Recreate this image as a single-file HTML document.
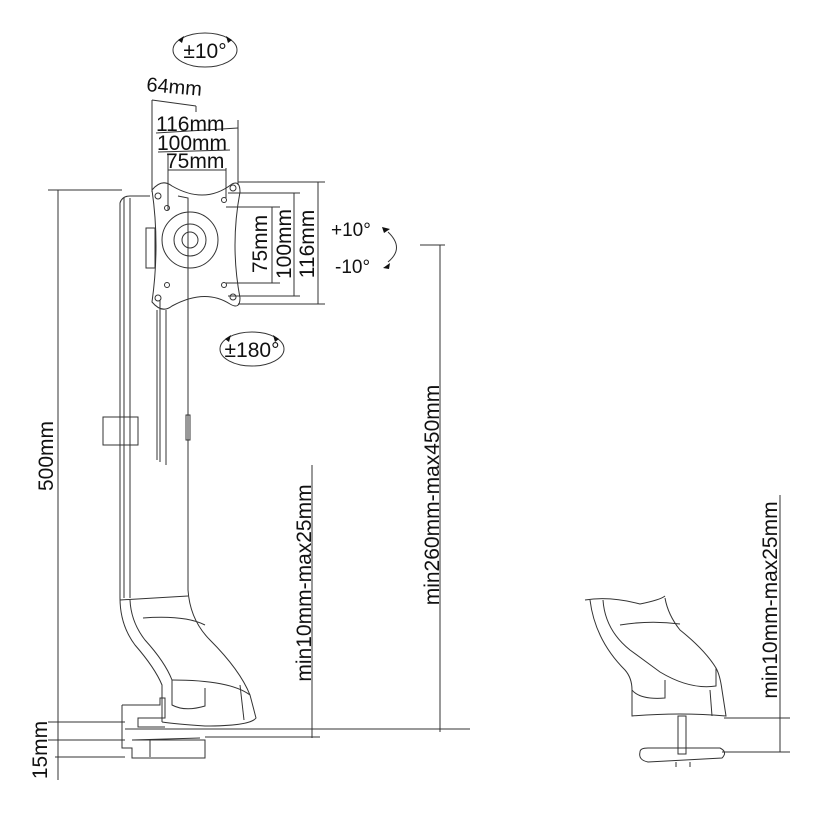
<!DOCTYPE html>
<html><head><meta charset="utf-8"><style>
html,body{margin:0;padding:0;background:#fff;width:814px;height:814px;overflow:hidden}
svg{display:block}
text{font-family:"Liberation Sans",sans-serif;fill:#111}
</style></head><body>
<svg width="814" height="814" viewBox="0 0 814 814" xmlns="http://www.w3.org/2000/svg">
<g fill="none" stroke="#333" stroke-width="1">
<ellipse cx="205" cy="50" rx="32" ry="17"/>
<line x1="152" y1="100" x2="196" y2="106"/>
<line x1="196" y1="106" x2="196" y2="112"/>
<line x1="152" y1="100" x2="152" y2="192"/>
<line x1="156" y1="133" x2="238" y2="128"/>
<line x1="238" y1="120" x2="238" y2="185"/>
<line x1="158" y1="152" x2="230" y2="150"/>
<line x1="168" y1="155" x2="168" y2="210"/>
<line x1="168" y1="170" x2="226" y2="170"/>
<line x1="226" y1="168" x2="226" y2="198"/>
<line x1="238" y1="182" x2="325" y2="182"/>
<line x1="238" y1="304" x2="325" y2="304"/>
<line x1="318" y1="182" x2="318" y2="304"/>
<line x1="228" y1="193" x2="300" y2="193"/>
<line x1="228" y1="296" x2="300" y2="296"/>
<line x1="294" y1="193" x2="294" y2="296"/>
<line x1="226" y1="207" x2="280" y2="207"/>
<line x1="226" y1="283" x2="280" y2="283"/>
<line x1="272" y1="207" x2="272" y2="283"/>
<path d="M388 232 Q405 248 388 262"/>
<line x1="420" y1="245" x2="445" y2="245"/>
<ellipse cx="252" cy="349" rx="32" ry="17"/>
<line x1="48" y1="190" x2="122" y2="190"/>
<line x1="58" y1="190" x2="58" y2="780"/>
<line x1="48" y1="722" x2="125" y2="722"/>
<line x1="48" y1="740" x2="125" y2="740"/>
<line x1="55" y1="757" x2="125" y2="757"/>
<!-- pole -->
<path d="M120 598 L120 203 Q122 196 130 196 L150 196"/>
<path d="M130 198 L130 598"/>
<line x1="124" y1="198" x2="124" y2="598"/>
<path d="M178 196 L188 198 L188 590"/>
<line x1="160" y1="300" x2="160" y2="462"/>
<line x1="157" y1="310" x2="157" y2="460"/>
<line x1="166" y1="310" x2="166" y2="465"/>
<rect x="103" y="417" width="35" height="28"/>
<rect x="186" y="415" width="4" height="25"/>
<rect x="146" y="228" width="9" height="40"/>
<path d="M152 190 Q162 178 172 186 Q205 205 232 184 Q240 180 240 192 Q230 245 240 298 Q240 310 230 304 Q205 288 172 306 Q162 314 152 302 Q160 245 152 190 Z"/>
<circle cx="190" cy="240" r="28"/>
<circle cx="190" cy="240" r="16"/>
<circle cx="190" cy="240" r="8"/>
<circle cx="158" cy="196" r="3"/><circle cx="167" cy="208" r="2.5"/>
<circle cx="233" cy="188" r="3"/><circle cx="224" cy="200" r="2.5"/>
<circle cx="158" cy="298" r="3"/><circle cx="167" cy="285" r="2.5"/>
<circle cx="233" cy="297" r="3"/><circle cx="224" cy="285" r="2.5"/>
<!-- foot -->
<line x1="120" y1="600" x2="188" y2="596"/>
<path d="M120 598 Q120 625 135 645 Q155 668 162 685 L162 722"/>
<path d="M130 600 Q131 622 145 640 Q165 662 172 680"/>
<path d="M188 590 Q190 620 210 640 Q240 670 250 695 L256 718 Q250 726 205 726 Q175 724 162 722"/>
<path d="M143 618 Q185 615 205 625"/>
<path d="M172 680 Q230 680 250 695"/>
<path d="M240 685 L244 720"/>
<path d="M172 680 L172 705 Q185 712 205 706 L205 688"/>
<!-- clamp -->
<path d="M122 705 L122 748 L132 748 L132 758 L205 758 L205 740 L132 740"/>
<path d="M122 705 L160 705 L160 698 L165 698 L165 718 L138 718 L138 727 L165 727"/>
<line x1="132" y1="740" x2="200" y2="738"/>
<line x1="150" y1="740" x2="150" y2="757"/>
<line x1="125" y1="729" x2="470" y2="729"/>
<line x1="205" y1="737" x2="320" y2="737"/>
<line x1="312" y1="465" x2="312" y2="738"/>
<line x1="440" y1="245" x2="440" y2="732"/>
<!-- right part -->
<path d="M585 600 Q610 596 640 604 Q660 600 665 596"/>
<path d="M590 600 Q595 640 625 670 Q632 678 632 690 L632 716 Q680 712 726 716 L722 690 Q720 675 716 668"/>
<path d="M603 600 Q605 630 630 650 L660 672 Q690 690 716 686 L716 668 Q705 650 680 630 Q668 615 665 598"/>
<path d="M620 625 Q650 620 680 624"/>
<path d="M632 690 Q640 700 665 698 L665 680"/>
<line x1="710" y1="690" x2="712" y2="716"/>
<rect x="678" y="716" width="8" height="38"/>
<path d="M640 752 Q638 760 648 762 L722 758 Q728 752 720 748 L648 748 Q640 748 640 752 Z"/>
<line x1="676" y1="762" x2="676" y2="767"/><line x1="690" y1="762" x2="690" y2="767"/>
<line x1="724" y1="718" x2="790" y2="718"/>
<line x1="722" y1="752" x2="790" y2="752"/>
<line x1="780" y1="495" x2="780" y2="752"/>
</g>
<g fill="#111">
<path d="M178 40 l6 -4 l-2 7z"/><path d="M232 40 l-6 -4 l2 7z"/>
<path d="M225 339 l6 -4 l-2 7z"/><path d="M279 339 l-6 -4 l2 7z"/>
<path d="M382 227 l8 2 l-6 4z"/><path d="M383 268 l7 -5 l-1 6z"/>
</g>
<text x="205" y="58" font-size="21" text-anchor="middle">±10°</text>
<text x="252" y="357" font-size="21" text-anchor="middle">±180°</text>
<text x="146" y="91" font-size="20" transform="rotate(5 146 91)">64mm</text>
<text x="156" y="131" font-size="21">116mm</text>
<text x="157" y="150" font-size="21">100mm</text>
<text x="166" y="168" font-size="21">75mm</text>
<text font-size="21" text-anchor="middle" transform="translate(267 244) rotate(-90)">75mm</text>
<text font-size="21" text-anchor="middle" transform="translate(291 244) rotate(-90)">100mm</text>
<text font-size="21" text-anchor="middle" transform="translate(314 244) rotate(-90)">116mm</text>
<text x="331" y="236" font-size="19">+10°</text>
<text x="335" y="273" font-size="19">-10°</text>
<text font-size="21" text-anchor="middle" transform="translate(53 456) rotate(-90)">500mm</text>
<text font-size="21" text-anchor="middle" transform="translate(47 750) rotate(-90)">15mm</text>
<text font-size="21" text-anchor="middle" transform="translate(311 583) rotate(-90)">min10mm-max25mm</text>
<text font-size="21" text-anchor="middle" transform="translate(439 495) rotate(-90)">min260mm-max450mm</text>
<text font-size="21" text-anchor="middle" transform="translate(777 600) rotate(-90)">min10mm-max25mm</text>
</svg>
</body></html>
